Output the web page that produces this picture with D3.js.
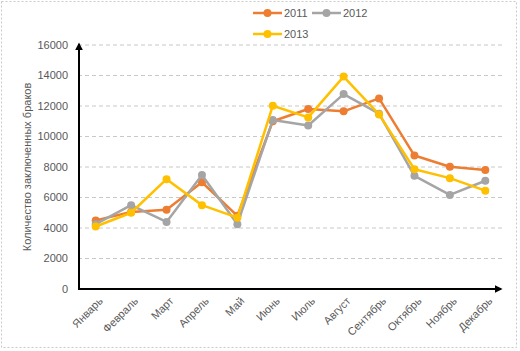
<!DOCTYPE html>
<html lang="ru">
<head>
  <meta charset="UTF-8">
  <title>Браки</title>
  <style>
    body { margin: 0; background: #fff; }
    svg text { font-family: "Liberation Sans", Arial, sans-serif; }
  </style>
</head>
<body>
<div id="chart"></div>

<script src="https://cdn.jsdelivr.net/npm/d3@7"></script>
<script>
  const months = ["Январь", "Февраль", "Март", "Апрель", "Май", "Июнь",
    "Июль", "Август", "Сентябрь", "Октябрь", "Ноябрь", "Декабрь"];
  const y2011 = [4500, 5050, 5200, 7000, 4800, 11000, 11800, 11650, 12500, 8750, 8020, 7800];
  const y2012 = [4250, 5500, 4400, 7480, 4250, 11080, 10720, 12780, 11500, 7420, 6170, 7100];
  const y2013 = [4100, 5000, 7200, 5500, 4680, 12020, 11250, 13930, 11450, 7850, 7270, 6450];
  const yTicks = [0, 2000, 4000, 6000, 8000, 10000, 12000, 14000, 16000];

  const series = [
    { name: "2011", values: y2011, color: "#ED7D31" },
    { name: "2012", values: y2012, color: "#A5A5A5" },
    { name: "2013", values: y2013, color: "#FFC000" }
  ];

  const W = 520, H = 351;
  const margin = { top: 45, right: 17, bottom: 62, left: 78 };

  const svg = d3.select("#chart").append("svg")
    .attr("width", W)
    .attr("height", H);

  // dashed frame round the whole chart
  svg.append("rect")
    .attr("x", 1.5).attr("y", 1.5)
    .attr("width", W - 5).attr("height", H - 5)
    .attr("fill", "none")
    .attr("stroke", "#c8c8c8")
    .attr("stroke-dasharray", "2,2");

  const x = d3.scalePoint()
    .domain(months)
    .range([margin.left, W - margin.right])
    .padding(0.5);

  const y = d3.scaleLinear()
    .domain([0, 16000])
    .range([H - margin.bottom, margin.top]);

  // grid
  svg.append("g")
    .selectAll("line")
    .data(yTicks.slice(1))
    .join("line")
    .attr("x1", margin.left)
    .attr("x2", W - margin.right)
    .attr("y1", d => y(d))
    .attr("y2", d => y(d))
    .attr("stroke", "#c8c8c8")
    .attr("stroke-dasharray", "4,3");

  // y tick labels
  svg.append("g")
    .selectAll("text")
    .data(yTicks)
    .join("text")
    .attr("x", margin.left - 10)
    .attr("y", d => y(d))
    .attr("dy", "0.35em")
    .attr("text-anchor", "end")
    .attr("font-size", 11)
    .attr("fill", "#595959")
    .text(d => d);

  // x labels
  svg.append("g")
    .selectAll("text")
    .data(months)
    .join("text")
    .attr("transform", d => "translate(" + (x(d) + 5) + "," + (H - margin.bottom + 10) + ") rotate(-45)")
    .attr("text-anchor", "end")
    .attr("dy", "0.35em")
    .attr("font-size", 11)
    .attr("fill", "#595959")
    .text(d => d);

  // axis title
  svg.append("text")
    .attr("transform", "translate(27," + y(8000) + ") rotate(-90)")
    .attr("text-anchor", "middle")
    .attr("dy", "0.35em")
    .attr("font-size", 11)
    .attr("fill", "#595959")
    .text("Количество заключенных браков");

  // axes with arrow heads
  const defs = svg.append("defs");
  defs.append("marker")
    .attr("id", "arrow")
    .attr("viewBox", "0 0 10 10")
    .attr("refX", 8).attr("refY", 5)
    .attr("markerWidth", 4).attr("markerHeight", 4)
    .attr("orient", "auto")
    .append("path")
    .attr("d", "M0,0 L10,5 L0,10 z")
    .attr("fill", "#000");

  svg.append("line")
    .attr("x1", margin.left + 1).attr("x2", margin.left + 1)
    .attr("y1", y(0)).attr("y2", y(16000) - 1)
    .attr("stroke", "#000").attr("stroke-width", 2)
    .attr("marker-end", "url(#arrow)");

  svg.append("line")
    .attr("x1", margin.left).attr("x2", W - margin.right - 2)
    .attr("y1", y(0)).attr("y2", y(0))
    .attr("stroke", "#000").attr("stroke-width", 2)
    .attr("marker-end", "url(#arrow)");

  // lines and markers
  const line = d3.line()
    .x((d, i) => x(months[i]))
    .y(d => y(d));

  const g = svg.append("g");
  series.forEach(s => {
    g.append("path")
      .datum(s.values)
      .attr("fill", "none")
      .attr("stroke", s.color)
      .attr("stroke-width", 2.5)
      .attr("stroke-linejoin", "round")
      .attr("d", line);
    g.append("g")
      .selectAll("circle")
      .data(s.values)
      .join("circle")
      .attr("cx", (d, i) => x(months[i]))
      .attr("cy", d => y(d))
      .attr("r", 4)
      .attr("fill", s.color);
  });

  // legend
  const legendItems = [
    { s: series[0], lx: 253, ly: 13 },
    { s: series[1], lx: 312, ly: 13 },
    { s: series[2], lx: 253, ly: 34 }
  ];
  const legend = svg.append("g");
  legendItems.forEach(it => {
    legend.append("line")
      .attr("x1", it.lx).attr("x2", it.lx + 29)
      .attr("y1", it.ly).attr("y2", it.ly)
      .attr("stroke", it.s.color).attr("stroke-width", 2.5);
    legend.append("circle")
      .attr("cx", it.lx + 14.5).attr("cy", it.ly).attr("r", 4)
      .attr("fill", it.s.color);
    legend.append("text")
      .attr("x", it.lx + 31).attr("y", it.ly)
      .attr("dy", "0.35em")
      .attr("font-size", 11)
      .attr("fill", "#595959")
      .text(it.s.name);
  });
</script>
</body>
</html>
